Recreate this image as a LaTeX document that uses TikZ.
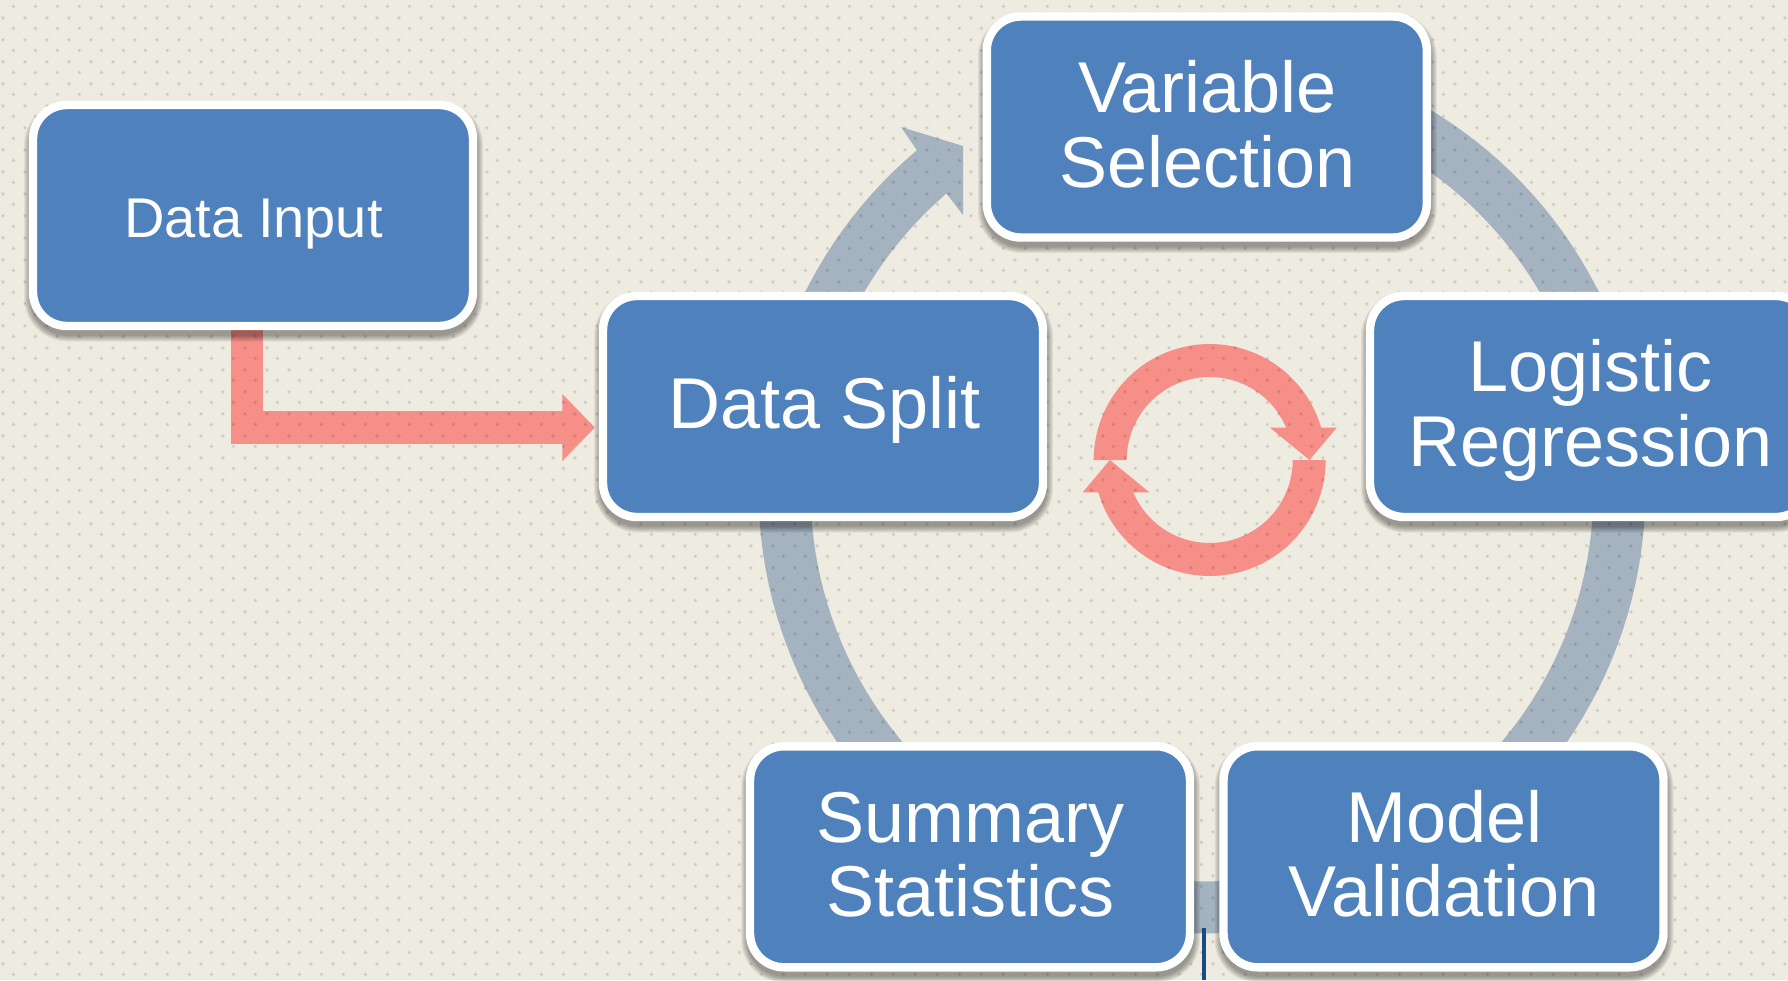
\documentclass[tikz,border=0pt]{standalone}
\usepackage{fontspec}
\setmainfont{Liberation Sans}
\usetikzlibrary{calc,arrows.meta,patterns}
\pgfdeclarelayer{bg}
\pgfsetlayers{bg,main}
\definecolor{paper}{HTML}{EEEBE0}
\definecolor{boxblue}{HTML}{4F81BD}
\definecolor{ringgray}{HTML}{A5B3C0}
\definecolor{arrowpink}{HTML}{F68F88}
\definecolor{darkline}{HTML}{1B4A85}
\pgfdeclarepatternformonly{dothalo}{\pgfqpoint{0pt}{0pt}}{\pgfqpoint{21.5pt}{21.5pt}}{\pgfqpoint{21.5pt}{21.5pt}}{%
  \pgfpathcircle{\pgfqpoint{13.7pt}{5.8pt}}{2.1pt}\pgfpathcircle{\pgfqpoint{3pt}{16.55pt}}{2.1pt}\pgfusepath{fill}}
\pgfdeclarepatternformonly{dotcore}{\pgfqpoint{0pt}{0pt}}{\pgfqpoint{21.5pt}{21.5pt}}{\pgfqpoint{21.5pt}{21.5pt}}{%
  \pgfpathcircle{\pgfqpoint{13.7pt}{5.8pt}}{1.1pt}\pgfpathcircle{\pgfqpoint{3pt}{16.55pt}}{1.1pt}\pgfusepath{fill}}
\tikzset{
  shadelayer/.style={preaction={draw=black,fill=none,draw opacity=0.06,line width=#1,transform canvas={xshift=0.5pt,yshift=-6pt}}},
  stepbox/.style={
    shadelayer=19pt,shadelayer=17pt,shadelayer=15pt,shadelayer=13pt,shadelayer=11pt,shadelayer=9pt,shadelayer=7pt,
    draw=white,line width=8.4pt,fill=boxblue,rounded corners=34pt,
    minimum width=440pt,minimum height=221pt,inner sep=0pt,outer sep=0pt,
    text=white,align=center,font=\fontsize{72}{74.7}\selectfont},
  smalltext/.style={font=\fontsize{56}{60}\selectfont,text height=63pt,text depth=20pt},
  singletext/.style={text height=63pt,text depth=20pt},
  pinkarrow/.style={draw=arrowpink,line width=32.7pt,-{Triangle[length=32.7pt,width=65pt,fill=arrowpink]}},
  darkrule/.style={draw=darkline,line width=4pt}
}
\newcommand{\twolines}[2]{\rule{0pt}{61.6pt}\hspace*{1.5pt}#1\\\hspace*{1.5pt}#2\rule[-16.3pt]{0pt}{0pt}}
\begin{document}
\begin{tikzpicture}[x=1pt,y=-1pt]
\useasboundingbox (0,0) rectangle (1788,980);
% boxes
\node[stepbox,smalltext] (input) at (253,215.5) {\hspace*{1pt}Data Input};
\node[stepbox,singletext] (split) at (823,406.5) {\hspace*{2.5pt}Data Split};
\node[stepbox] (variable) at (1206.8,127) {\twolines{Variable}{Selection}};
\node[stepbox] (logistic) at (1590,406.5) {\twolines{Logistic}{Regression}};
\node[stepbox] (summary) at (970,856.8) {\twolines{Summary}{Statistics}};
\node[stepbox] (model) at (1443.5,856.8) {\twolines{Model}{Validation}};
\coordinate (ruletop) at (1204,928);
\coordinate (rulebottom) at (1204,980);
\draw[darkrule] (ruletop) -- (rulebottom);
\begin{pgfonlayer}{bg}
\fill[paper] (0,0) rectangle (1788,980);
% large grey cycle
\fill[ringgray]
  plot[domain=270:590,samples=160,variable=\t] ({1202+443.5*cos(\t)},{490+443.5*sin(\t)})
  -- (901,127) -- (963,146) -- (963,215) -- (946,193)
  -- plot[domain=589.2:270,samples=160,variable=\t] ({1202+391.5*cos(\t)},{490+391.5*sin(\t)})
  -- cycle;
% inner refresh arrows
\foreach \a in {0,180}{
  \fill[arrowpink,rotate around={\a:(1209.7,460)}]
    plot[domain=180:343.8,samples=70,variable=\t] ({1209.7+116*cos(\t)},{460+116*sin(\t)})
    -- (1336.7,427.7) -- (1309.5,460) -- (1270,427.7)
    -- plot[domain=337.1:180,samples=70,variable=\t] ({1209.7+83*cos(\t)},{460+83*sin(\t)})
    -- cycle;
}
% connector
\coordinate (armstart) at ($(input.south)+(-6,0)$);
\coordinate (armend) at ($(split.west)+(-8,21)$);
\draw[pinkarrow] (armstart) |- (armend);
% dot texture
\fill[pattern=dothalo,pattern color=black,fill opacity=0.05] (0,0) rectangle (1788,980);
\fill[pattern=dotcore,pattern color=black,fill opacity=0.12] (0,0) rectangle (1788,980);
\end{pgfonlayer}
\end{tikzpicture}
\end{document}
